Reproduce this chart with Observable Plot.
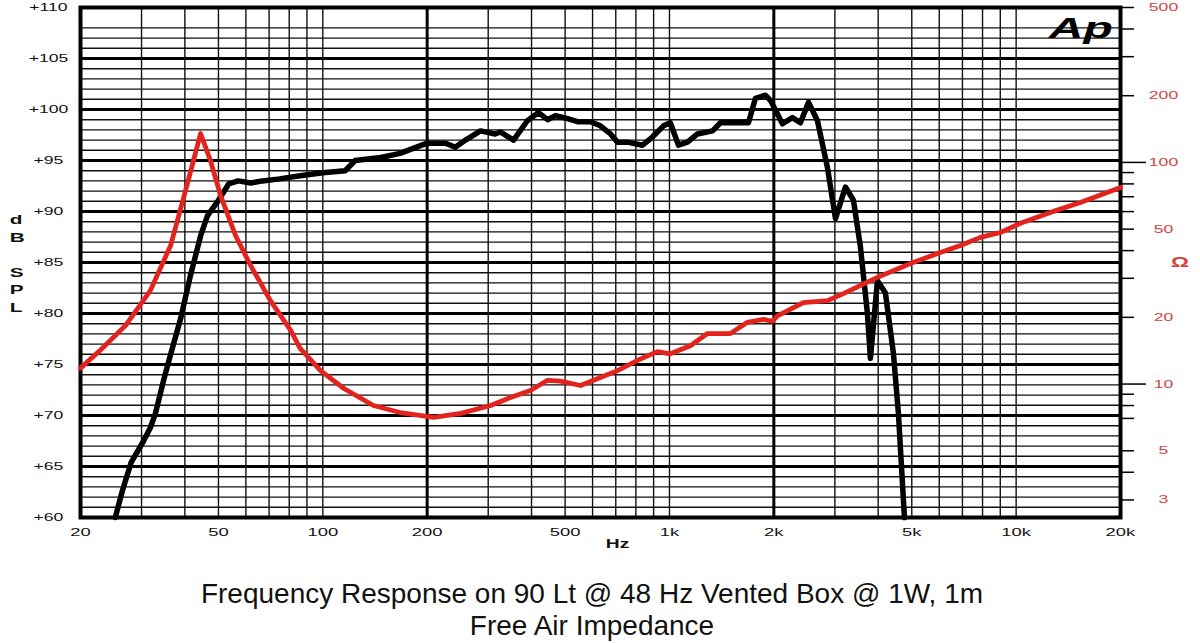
<!DOCTYPE html>
<html>
<head>
<meta charset="utf-8">
<script src="https://cdn.jsdelivr.net/npm/d3@7"></script>
<script src="https://cdn.jsdelivr.net/npm/@observablehq/plot@0.6"></script>
<style>
  html, body { margin: 0; padding: 0; background: #fff; }
  #chart { width: 1200px; height: 560px; }
  #caption { width: 1200px; box-sizing: border-box; padding: 18px 16px 0 0; text-align: center;
             font-family: "Liberation Sans", Arial, sans-serif; font-size: 28px; line-height: 32px; color: #111; }
</style>
</head>
<body>
<div id="chart"></div>
<div id="caption">Frequency Response on 90 Lt @ 48 Hz Vented Box @ 1W, 1m<br>Free Air Impedance</div>
<script>
// ---- Frequency response (black), dB SPL ----
const splFreqHz = [25.2,26.4,28,30.4,31.8,32.9,34.7,36.4,38.9,41.5,44.4,46.5,50,53.5,57,62,67,75,86,100,116,124,147,167,200,226,241,258,285,314,325,355,389,419,445,469,508,543,592,632,676,708,757,836,893,961,1006,1061,1127,1204,1331,1403,1690,1770,1891,1955,2118,2262,2386,2518,2672,2856,3012,3218,3394,3556,3724,3798,3980,4197,4426,4575,4762];
const splDb = [60,62.6,65.4,67.5,68.8,70.2,73.4,76,79.5,83.7,87.6,89.6,91.1,92.7,93.0,92.8,93.0,93.2,93.5,93.8,94.0,95.0,95.3,95.7,96.7,96.7,96.3,97.0,97.9,97.6,97.8,97.0,98.9,99.7,99.0,99.4,99.1,98.8,98.8,98.4,97.6,96.8,96.8,96.5,97.3,98.4,98.7,96.5,96.8,97.6,97.9,98.7,98.7,101.1,101.4,100.9,98.6,99.2,98.7,100.7,98.9,94.3,89.3,92.4,91.1,86.5,80.0,75.6,83.2,82.0,76.1,70.2,60];

// ---- Free air impedance (red), ohms ----
const impFreqHz = [20,22.8,27,31.8,36.4,40.2,44.4,47.4,50.7,56,61.9,70.6,80.7,86,98.5,115,140,167,209,250,305,348,397,445,485,554,632,708,809,923,1006,1149,1287,1499,1678,1866,1980,2048,2434,2856,3176,3980,4955,6048,6908,7888,9008,10288,12560,15320,20000];
const impOhm = [11.8,14.2,18.4,26.4,42.2,74.8,135,102,71,46.8,34.3,23.8,17.5,14.5,11.5,9.55,8.0,7.44,7.07,7.37,8.0,8.7,9.35,10.4,10.3,9.85,10.7,11.5,12.8,14.0,13.7,14.9,16.9,16.9,19.0,19.6,19.2,20.3,23.3,23.8,25.6,30.3,35.0,39.2,42.2,45.9,48.3,53.1,59.5,66,77.1];

// ---- Axes / ticks ----
const freqDomain = [20, 20000];
const dbDomain = [60, 110];
const ohmDomain = [2.5, 500];
const freqLabels = [20,50,100,200,500,1000,2000,5000,10000,20000];
const freqGrid = [30,40,50,60,70,80,90,100,200,300,400,500,600,700,800,900,1000,2000,3000,4000,5000,6000,7000,8000,9000,10000];
const freqGridBold = [200, 2000];
const dbLabels = [60,65,70,75,80,85,90,95,100,105,110];
const dbGrid = [61,62,63,64,65,66,67,68,69,70,71,72,73,74,75,76,77,78,79,80,81,82,83,84,85,86,87,88,89,90,91,92,93,94,95,96,97,98,99,100,101,102,103,104,105,106,107,108];
const ohmTicksShort = [3,4,5,7,8,9,20,30,40,50,60,70,80,90,200,300,400,500];
const ohmTicksLong = [10,100];
const ohmLabels = [3,5,10,20,50,100,200,500];

const RED = "#e3231e";
const RED_TEXT = "#d4443f";
const FONT = "Liberation Sans, Arial, sans-serif";

// Ohm values are placed on the dB frame through a log scale spanning the same height
const ohmToY = d3.scaleLog().domain(ohmDomain).range(dbDomain);

const spl = splFreqHz.map((f, i) => ({f, v: splDb[i]}));
const imp = impFreqHz.map((f, i) => ({f, v: impOhm[i]}));
const fmtHz = d => d >= 1000 ? (d / 1000) + "k" : String(d);

const chart = Plot.plot({
  width: 1200,
  height: 560,
  marginLeft: 80,
  marginRight: 80,
  marginTop: 7,
  marginBottom: 43,
  style: {fontFamily: FONT, background: "transparent", overflow: "visible"},
  x: {type: "log", domain: freqDomain, axis: null},
  y: {domain: dbDomain},
  marks: [
    Plot.ruleY(dbGrid, {stroke: "#111", strokeWidth: 1.4}),
    Plot.ruleY(dbLabels, {stroke: "#000", strokeWidth: 3}),
    Plot.ruleX(freqGrid, {stroke: "#111", strokeWidth: 1.4}),
    Plot.ruleX(freqGridBold, {stroke: "#000", strokeWidth: 3}),
    Plot.frame({stroke: "#000", strokeWidth: 4}),
    Plot.line(spl, {x: "f", y: "v", stroke: "#000", strokeWidth: 5.5, strokeLinejoin: "round", strokeLinecap: "round"}),
    Plot.line(imp, {x: "f", y: d => ohmToY(d.v), stroke: RED, strokeWidth: 4.8, strokeLinejoin: "round"}),
    // left axis
    Plot.axisY(dbLabels, {anchor: "left", label: null, tickSize: 0, tickPadding: 32, textAnchor: "middle",
      tickFormat: d => "+" + d, fontSize: 11, fill: "#111"}),
    // bottom axis labels
    Plot.text(freqLabels, {x: d => d, text: fmtHz, frameAnchor: "bottom", dy: 15, lineAnchor: "middle", fontSize: 11.5, fill: "#111"}),
    // right axis (ohms)
    Plot.axisY(ohmTicksShort.map(o => ohmToY(o)), {anchor: "right", label: null, tickSize: 13, tickFormat: () => "", stroke: "#000", strokeWidth: 1.5}),
    Plot.axisY(ohmTicksLong.map(o => ohmToY(o)), {anchor: "right", label: null, tickSize: 25, tickFormat: () => "", stroke: "#000", strokeWidth: 1.5}),
    Plot.text(ohmLabels, {y: d => ohmToY(d), text: d => String(d), frameAnchor: "right", dx: 43, textAnchor: "middle", fontSize: 11, fill: RED_TEXT}),
    Plot.text(["\u03a9"], {frameAnchor: "right", dx: 65, fontSize: 14, fontWeight: "bold", fill: RED_TEXT}),
    Plot.text(["d\nB\n\nS\nP\nL"], {frameAnchor: "left", dx: -68, fontSize: 13, lineHeight: 1.35, fontWeight: "bold", fill: "#111"}),
    Plot.text(["Hz"], {frameAnchor: "bottom", dx: 17, dy: 30, fontSize: 12, fontWeight: "bold", fill: "#111"}),
    Plot.text(["Ap"], {frameAnchor: "top-right", dx: -40, dy: 9, lineAnchor: "top", textAnchor: "middle", fontSize: 30, fontWeight: "bold", fontStyle: "italic", fill: "#000"})
  ]
});
document.getElementById("chart").appendChild(chart);

// The reference lettering is drawn horizontally widened: stretch each text about its own centre.
const STRETCH = 1.6;
chart.querySelectorAll("text").forEach(t => {
  if (!t.textContent.trim()) return;
  const b = t.getBBox();
  if (!b.width) return;
  const cx = b.x + b.width / 2;
  const prev = t.getAttribute("transform") || "";
  t.setAttribute("transform", `${prev} translate(${cx},0) scale(${STRETCH},1) translate(${-cx},0)`.trim());
});
</script>
</body>
</html>
